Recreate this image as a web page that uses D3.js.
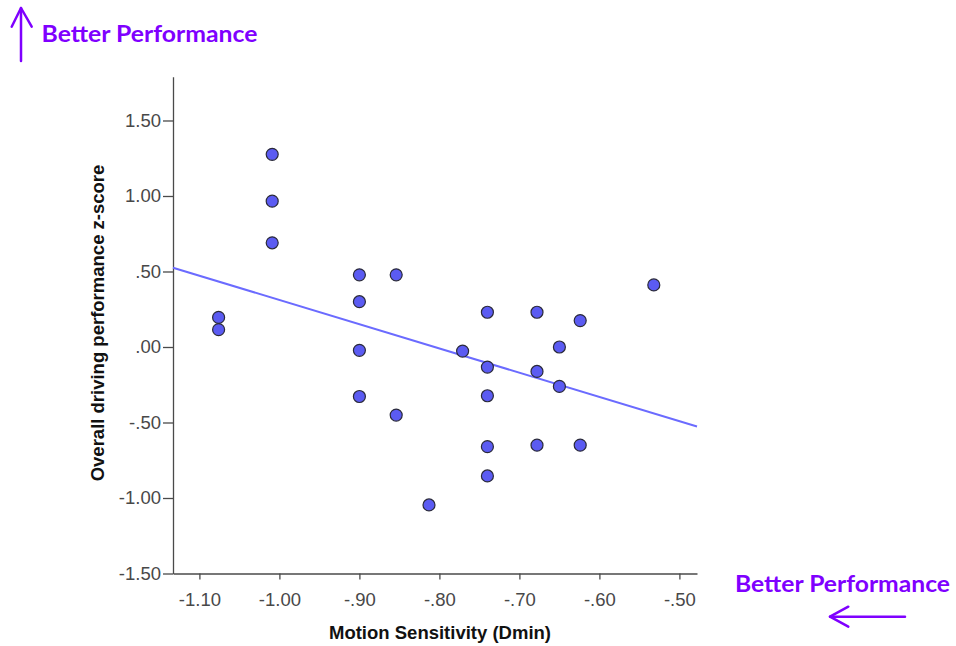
<!DOCTYPE html>
<html>
<head>
<meta charset="utf-8">
<script src="https://cdn.jsdelivr.net/npm/d3@7/dist/d3.min.js"></script>
<style>
  html, body { margin: 0; padding: 0; background: #ffffff; }
  svg { display: block; }
</style>
</head>
<body>
<svg id="chart" width="956" height="646"></svg>
<script>
// ---- data ----
const motionDmin = [
  -1.009, -1.009, -1.009,
  -1.076, -1.076,
  -0.900, -0.900, -0.900, -0.900,
  -0.854, -0.854,
  -0.813,
  -0.771,
  -0.740, -0.740, -0.740, -0.740, -0.740,
  -0.678, -0.678, -0.678,
  -0.650, -0.650,
  -0.624, -0.624,
  -0.532
];
const drivingZ = [
  1.276, 0.966, 0.690,
  0.196, 0.115,
  0.478, 0.300, -0.022, -0.328,
  0.478, -0.451,
  -1.046,
  -0.027,
  0.230, -0.133, -0.323, -0.660, -0.854,
  0.230, -0.162, -0.650,
  0.000, -0.261,
  0.175, -0.650,
  0.411
];
const fitLineX = [-1.133, -0.478];
const fitLineY = [0.525, -0.527];

const xTickValues = [-1.10, -1.00, -0.90, -0.80, -0.70, -0.60, -0.50];
const xTickLabels = ["-1.10", "-1.00", "-.90", "-.80", "-.70", "-.60", "-.50"];
const yTickValues = [-1.50, -1.00, -0.50, 0.00, 0.50, 1.00, 1.50];
const yTickLabels = ["-1.50", "-1.00", "-.50", ".00", ".50", "1.00", "1.50"];

const xTitle = "Motion Sensitivity (Dmin)";
const yTitle = "Overall driving performance z-score";
const noteText = "Better Performance";

// ---- layout ----
const svg = d3.select("#chart");
const purple = "#7f00ff";
const axisColor = "#4a4a4a";
const tickFont = "'Liberation Sans', Arial, sans-serif";

const x = d3.scaleLinear().domain([-1.133, -0.478]).range([173, 697]);
const y = d3.scaleLinear().domain([-1.5, 1.79]).range([573.5, 76.7]);

// Y axis
const yAxis = d3.axisLeft(y)
  .tickValues(yTickValues)
  .tickFormat((d, i) => yTickLabels[i])
  .tickSizeInner(10)
  .tickSizeOuter(0)
  .tickPadding(2);
const gy = svg.append("g").attr("transform", "translate(173,0)").call(yAxis);
gy.select(".domain").attr("stroke", axisColor).attr("stroke-width", 1.3);
gy.selectAll(".tick line").attr("stroke", axisColor).attr("stroke-width", 1.3);
gy.selectAll(".tick text")
  .attr("fill", "#484848")
  .style("font-family", tickFont)
  .style("font-size", "18.5px");

// X axis
const xAxis = d3.axisBottom(x)
  .tickValues(xTickValues)
  .tickFormat((d, i) => xTickLabels[i])
  .tickSizeInner(6)
  .tickSizeOuter(0)
  .tickPadding(13);
const gx = svg.append("g").attr("transform", "translate(0,573.5)").call(xAxis);
gx.select(".domain").attr("stroke", axisColor).attr("stroke-width", 1.3);
gx.selectAll(".tick line").attr("stroke", axisColor).attr("stroke-width", 1.3);
gx.selectAll(".tick text")
  .attr("fill", "#484848")
  .style("font-family", tickFont)
  .style("font-size", "18.5px");

// Axis titles
svg.append("text")
  .attr("x", 440).attr("y", 639)
  .attr("text-anchor", "middle")
  .style("font-family", tickFont)
  .style("font-weight", "bold")
  .style("font-size", "18.5px")
  .attr("fill", "#111")
  .text(xTitle);

svg.append("text")
  .attr("transform", "translate(104,323) rotate(-90)")
  .attr("text-anchor", "middle")
  .style("font-family", tickFont)
  .style("font-weight", "bold")
  .style("font-size", "18.5px")
  .attr("fill", "#111")
  .text(yTitle);

// Fit line
svg.append("line")
  .attr("x1", x(fitLineX[0])).attr("y1", y(fitLineY[0]))
  .attr("x2", x(fitLineX[1])).attr("y2", y(fitLineY[1]))
  .attr("stroke", "#6b6bff")
  .attr("stroke-width", 2);

// Points
svg.append("g").selectAll("circle")
  .data(motionDmin.map((d, i) => [d, drivingZ[i]]))
  .join("circle")
  .attr("cx", d => x(d[0]))
  .attr("cy", d => y(d[1]))
  .attr("r", 6)
  .attr("fill", "#5b5bf2")
  .attr("stroke", "#2a2a3a")
  .attr("stroke-width", 1.2);

// Annotations
const noteFont = "Lato, 'Open Sans', sans-serif";
svg.append("text")
  .attr("x", 41.5).attr("y", 42)
  .attr("textLength", 216).attr("lengthAdjust", "spacingAndGlyphs")
  .style("font-family", noteFont)
  .style("font-weight", "bold")
  .style("font-size", "23px")
  .attr("fill", purple)
  .text(noteText);

svg.append("text")
  .attr("x", 735).attr("y", 592.3)
  .attr("textLength", 215).attr("lengthAdjust", "spacingAndGlyphs")
  .style("font-family", noteFont)
  .style("font-weight", "bold")
  .style("font-size", "22px")
  .attr("fill", purple)
  .text(noteText);

// Arrows
const arrowStyle = g => g.attr("fill", "none").attr("stroke", purple)
  .attr("stroke-width", 2.5).attr("stroke-linecap", "round").attr("stroke-linejoin", "round");

svg.append("path")
  .attr("d", d3.line()([[21, 61], [21, 8]]))
  .call(arrowStyle);
svg.append("path")
  .attr("d", d3.line()([[11.7, 26.7], [21, 8], [31.7, 26.7]]))
  .call(arrowStyle);

svg.append("path")
  .attr("d", d3.line()([[905, 616.7], [830, 616.7]]))
  .call(arrowStyle);
svg.append("path")
  .attr("d", d3.line()([[848.3, 606.7], [830, 616.7], [848.3, 626.7]]))
  .call(arrowStyle);
</script>
</body>
</html>
